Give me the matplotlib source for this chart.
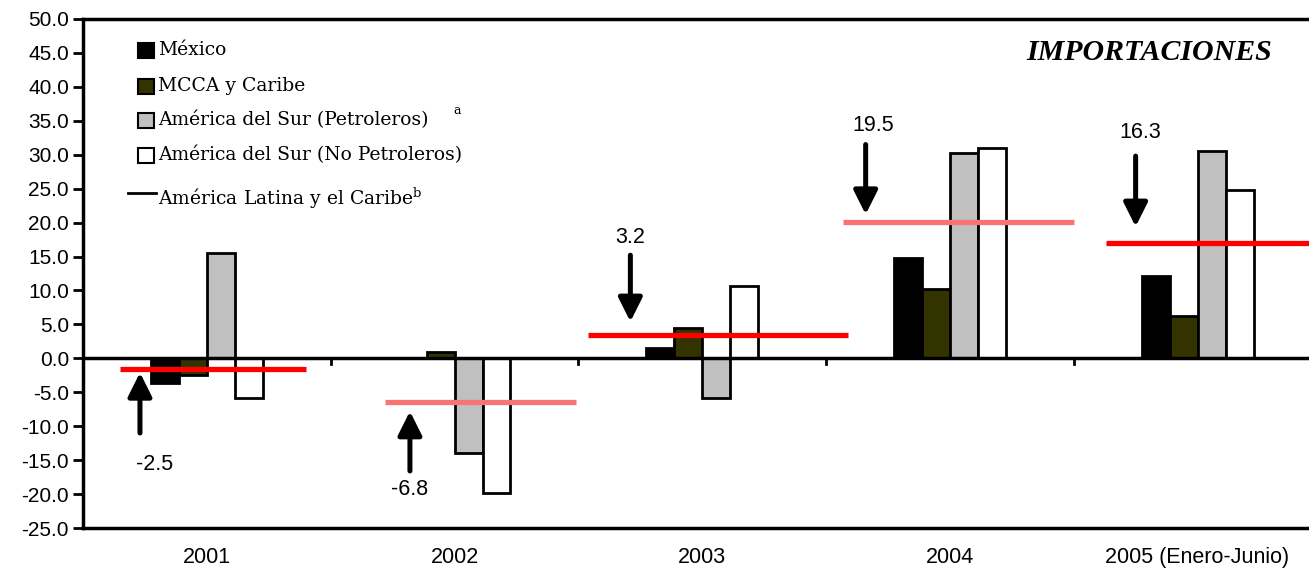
import matplotlib
matplotlib.use("Agg")
import matplotlib.pyplot as plt
from matplotlib.patches import Rectangle
import numpy as np

plt.rcParams["mathtext.fontset"] = "dejavuserif"

# ---------------- data ----------------
categories = ["2001", "2002", "2003", "2004", "2005 (Enero-Junio)"]
series_names = ["México", "MCCA y Caribe", "América del Sur (Petroleros)", "América del Sur (No Petroleros)"]
line_name = "América Latina y el Caribe"
mexico = [-3.7, 0.0, 1.5, 14.8, 12.1]
mcca = [-2.4, 1.0, 4.4, 10.2, 6.2]
petroleros = [15.5, -14.0, -5.9, 30.2, 30.5]
no_petroleros = [-5.8, -19.8, 10.6, 31.0, 24.8]
alc_line = [-1.6, -6.5, 3.4, 20.1, 17.0]
alc_labels = ["-2.5", "-6.8", "3.2", "19.5", "16.3"]
yticks = [50, 45, 40, 35, 30, 25, 20, 15, 10, 5, 0, -5, -10, -15, -20, -25]

# ---------------- style ----------------
colors = ["#000000", "#333300", "#c0c0c0", "#ffffff"]
line_colors = ["#ff0000", "#f87474", "#ff0000", "#f87474", "#ff0000"]
line_spans = [(-0.35, 0.40), (-0.28, 0.49), (-0.46, 0.59), (-0.43, 0.50), (-0.37, 0.60)]
# arrow layout: (x offset, tail y, head y, label y, label x offset)
arrow_layout = [(-0.27, -11.0, -2.1, -15.6, 0.06), (-0.18, -16.6, -7.8, -19.4, 0.0),
                (-0.29, 15.2, 5.4, 17.8, 0.0), (-0.34, 31.5, 21.2, 34.3, 0.03),
                (-0.25, 29.8, 19.4, 33.3, 0.02)]

W, H = 1309, 574
fig = plt.figure(figsize=(W / 100, H / 100), dpi=100)
ax = fig.add_axes([83 / W, 46 / H, 1 - 83 / W, (528 - 19) / H])

x = np.arange(len(categories))
w = 0.113
all_series = [mexico, mcca, petroleros, no_petroleros]
for i, (vals, c) in enumerate(zip(all_series, colors)):
    offs = (i - 1.5) * w
    for xi, v in zip(x, vals):
        if v == 0:
            continue
        ax.bar(xi + offs, v, width=w, color=c, edgecolor="black", linewidth=2, zorder=2)

# zero line and small ticks on it
ax.axhline(0, color="black", lw=2.5, zorder=3)
for b in x[:-1] + 0.5:
    ax.plot([b, b], [0, -0.9], color="black", lw=2, zorder=3)

# latin america lines
for xi, v, c, (a, b) in zip(x, alc_line, line_colors, line_spans):
    ax.plot([xi + a, xi + b], [v, v], color=c, lw=3.8, solid_capstyle="butt", zorder=4)

# arrows and labels
for xi, lab, (dx, ty, hy, ly, lx) in zip(x, alc_labels, arrow_layout):
    ax.annotate("", xy=(xi + dx, hy), xytext=(xi + dx, ty),
                arrowprops=dict(arrowstyle="-|>", color="black", lw=3.6,
                                mutation_scale=36, shrinkA=0, shrinkB=0), zorder=5)
    ax.text(xi + dx + lx, ly, lab, ha="center", va="center", fontsize=15.5,
            family="Liberation Sans", color="black")

ax.set_xlim(-0.5, 4.45)
ax.set_ylim(-25, 50)
ax.set_yticks(yticks)
ax.set_yticklabels([f"{t:.1f}" for t in yticks], family="Liberation Sans", fontsize=15)
ax.set_xticks(x)
ax.set_xticklabels(categories, family="Liberation Sans", fontsize=15.5)
ax.tick_params(axis="x", length=0, pad=14)
ax.tick_params(axis="y", length=7, width=2, pad=3, direction="out")
for s in ["left", "bottom", "top"]:
    ax.spines[s].set_linewidth(2.5)
ax.spines["right"].set_visible(False)

ax.text((1272 - 83) / (W - 83), (528 - 53) / 509, "IMPORTACIONES", transform=ax.transAxes,
        ha="right", va="center", family="Liberation Serif", style="italic",
        weight="bold", fontsize=21.5)

# manual legend (pixel layout converted to figure fraction)
def fx(px):
    return px / W

def fy(py):
    return 1 - py / H

row_y = [50, 86, 120, 155]
leg_font = dict(family="DejaVu Serif", fontsize=13.5)
for c, name, ry in zip(colors, series_names, row_y):
    fig.add_artist(Rectangle((fx(138), fy(ry + 7.5)), 16 / W, 15 / H, transform=fig.transFigure,
                             facecolor=c, edgecolor="black", linewidth=1.5))
    fig.text(fx(158), fy(ry), name, ha="left", va="center", **leg_font)
fig.text(fx(453), fy(111), "a", ha="left", va="center", family="DejaVu Serif", fontsize=9)
fig.add_artist(plt.Line2D([fx(128), fx(156)], [fy(193), fy(193)], transform=fig.transFigure,
                          color="black", lw=2))
fig.text(fx(158), fy(198), line_name + "$^{\\mathrm{b}}$", ha="left", va="center", **leg_font)

fig.savefig("out.png", dpi=100)
